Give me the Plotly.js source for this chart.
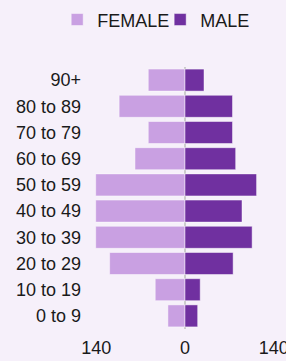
<!DOCTYPE html>
<html>
<head>
<meta charset="utf-8">
<script src="https://cdn.plot.ly/plotly-3.0.1.min.js"></script>
<style>html,body{margin:0;padding:0;background:#f6f0fa;}</style>
</head>
<body>
<div id="chart" style="width:286px;height:361px;"></div>
<script>
const ageGroups = ['0 to 9','10 to 19','20 to 29','30 to 39','40 to 49','50 to 59','60 to 69','70 to 79','80 to 89','90+'];
const female = [27, 47, 119, 141, 141, 141, 79, 58, 104, 58];
const male = [20, 24, 76, 106, 90, 113, 80, 75, 75, 30];
const tickVals = [-140, 0, 140];
const tickText = ['140', '0', '140'];

const traces = [
  {
    type: 'bar', orientation: 'h', name: 'FEMALE', legend: 'legend',
    y: ageGroups, x: female.map(v => -v), customdata: female,
    hovertemplate: '%{y}: %{customdata}<extra>FEMALE</extra>',
    marker: {color: '#c9a0e2', line: {color: 'rgba(255,255,255,0.45)', width: 1}}
  },
  {
    type: 'bar', orientation: 'h', name: 'MALE', legend: 'legend2',
    y: ageGroups, x: male,
    hovertemplate: '%{y}: %{x}<extra>MALE</extra>',
    marker: {color: '#7030a0', line: {color: 'rgba(255,255,255,0.45)', width: 1}}
  }
];

const legendBase = {orientation: 'h', xref: 'container', yref: 'container', xanchor: 'left', y: 0.945, yanchor: 'middle', font: {size: 18}, bgcolor: 'rgba(0,0,0,0)', itemclick: false, borderwidth: 0};

const layout = {
  width: 286, height: 361,
  paper_bgcolor: '#f6f0fa', plot_bgcolor: '#f6f0fa',
  font: {family: 'Liberation Sans, Arial, sans-serif', size: 18, color: '#1a1a1a'},
  margin: {l: 90, r: 6, t: 67, b: 32},
  barmode: 'relative', bargap: 0.16,
  showlegend: true,
  legend: Object.assign({}, legendBase, {x: 0.2}),
  legend2: Object.assign({}, legendBase, {x: 0.56}),
  xaxis: {range: [-150, 150], tickvals: tickVals, ticktext: tickText, showgrid: false, zeroline: true, zerolinecolor: '#cccccc', zerolinewidth: 2, showline: false, ticks: '', ticklabeloverflow: 'allow', ticklabelstandoff: 6, fixedrange: true},
  yaxis: {type: 'category', categoryorder: 'array', categoryarray: ageGroups, showgrid: false, zeroline: false, ticks: '', ticklabelstandoff: 8, fixedrange: true}
};

Plotly.newPlot('chart', traces, layout, {displayModeBar: false, staticPlot: true});
</script>
</body>
</html>
